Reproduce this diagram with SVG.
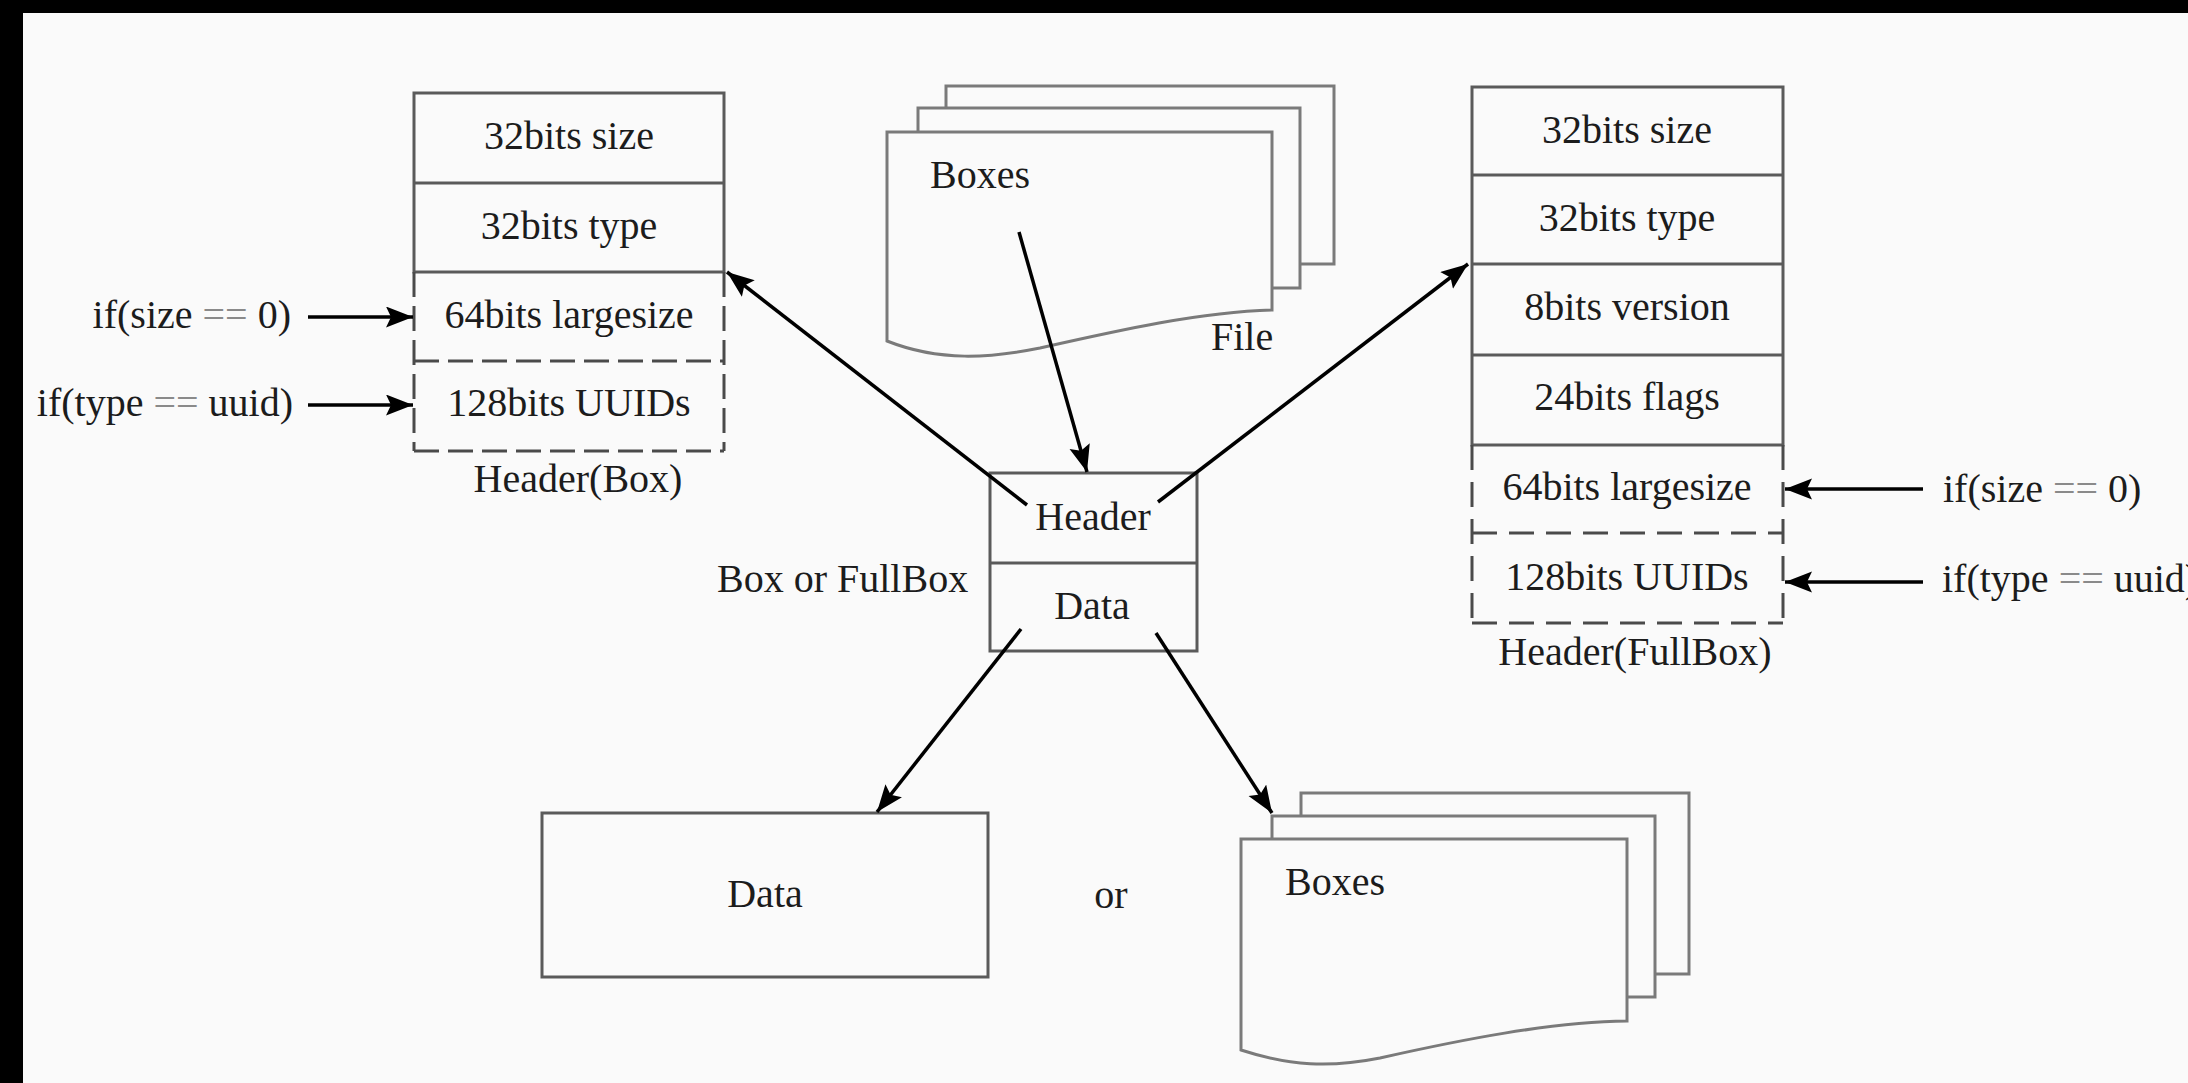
<svg xmlns="http://www.w3.org/2000/svg" width="2188" height="1083" viewBox="0 0 2188 1083">
  <defs>
    <marker id="arrow" markerUnits="userSpaceOnUse" markerWidth="30" markerHeight="24" refX="27" refY="10.5" orient="auto">
      <path d="M0,0 L27,10.5 L0,21 L5,10.5 Z" fill="#000"/>
    </marker>
    <style>
      text { font-family: "Liberation Serif", "Times New Roman", serif; font-size: 40px; fill: #1c1c1c; }
      .mid { text-anchor: middle; }
      .end { text-anchor: end; }
      .eq { fill: #8a8a8a; }
      .cell { fill: none; stroke: #5a5a5a; stroke-width: 3; }
      .dash { fill: none; stroke: #4a4a4a; stroke-width: 3; stroke-dasharray: 25 9; }
      .dash2 { fill: none; stroke: #4a4a4a; stroke-width: 3; stroke-dasharray: 25 12; }
      .page { fill: #fafafa; stroke: #7a7a7a; stroke-width: 3; }
      .conn { fill: none; stroke: #000; stroke-width: 3.5; marker-end: url(#arrow); }
    </style>
  </defs>

  <!-- canvas with dark frame on top and left -->
  <rect x="0" y="0" width="2188" height="1083" fill="#000"/>
  <rect x="23" y="13" width="2165" height="1070" fill="#fafafa"/>

  <!-- Header(Box) layout -->
  <g id="header-box">
    <rect class="cell" x="414" y="93" width="310" height="179"/>
    <line class="cell" x1="414" y1="183" x2="724" y2="183"/>
    <line class="dash" x1="414" y1="272" x2="414" y2="451"/>
    <line class="dash" x1="724" y1="272" x2="724" y2="451"/>
    <line class="dash" x1="414" y1="361" x2="724" y2="361"/>
    <line class="dash" x1="414" y1="451" x2="724" y2="451"/>
    <text class="mid" x="569" y="149">32bits size</text>
    <text class="mid" x="569" y="239">32bits type</text>
    <text class="mid" x="569" y="328">64bits largesize</text>
    <text class="mid" x="569" y="416">128bits UUIDs</text>
    <text class="mid" x="578" y="492">Header(Box)</text>
  </g>

  <g id="cond-box-size">
    <text class="end" x="291" y="328">if(size <tspan class="eq">==</tspan> 0)</text>
  </g>
  <g id="cond-box-type">
    <text class="end" x="293" y="416">if(type <tspan class="eq">==</tspan> uuid)</text>
  </g>

  <!-- File made of stacked boxes -->
  <g id="file-boxes">
    <rect class="page" x="946" y="86" width="388" height="178"/>
    <rect class="page" x="918" y="108" width="382" height="180"/>
    <path class="page" d="M887,341 L887,132 L1272,132 L1272,310 C1200,312 1120,330 1040,348 C990,358 940,362 887,341 Z"/>
    <text x="930" y="188">Boxes</text>
    <text x="1211" y="350">File</text>
  </g>

  <!-- Box or FullBox -->
  <g id="box-or-fullbox">
    <rect class="cell" x="990" y="473" width="207" height="178"/>
    <line class="cell" x1="990" y1="563" x2="1197" y2="563"/>
    <text class="mid" x="1093" y="530">Header</text>
    <text class="mid" x="1092" y="619">Data</text>
    <text x="717" y="592">Box or FullBox</text>
  </g>

  <!-- Header(FullBox) layout -->
  <g id="header-fullbox">
    <rect class="cell" x="1472" y="87" width="311" height="358"/>
    <line class="cell" x1="1472" y1="175" x2="1783" y2="175"/>
    <line class="cell" x1="1472" y1="264" x2="1783" y2="264"/>
    <line class="cell" x1="1472" y1="355" x2="1783" y2="355"/>
    <line class="dash2" x1="1472" y1="445" x2="1472" y2="623"/>
    <line class="dash2" x1="1783" y1="445" x2="1783" y2="623"/>
    <line class="dash2" x1="1472" y1="533" x2="1783" y2="533"/>
    <line class="dash2" x1="1472" y1="623" x2="1783" y2="623"/>
    <text class="mid" x="1627" y="143">32bits size</text>
    <text class="mid" x="1627" y="231">32bits type</text>
    <text class="mid" x="1627" y="320">8bits version</text>
    <text class="mid" x="1627" y="410">24bits flags</text>
    <text class="mid" x="1627" y="500">64bits largesize</text>
    <text class="mid" x="1627" y="590">128bits UUIDs</text>
    <text class="mid" x="1635" y="665">Header(FullBox)</text>
  </g>

  <g id="cond-fullbox-size">
    <text x="1943" y="502">if(size <tspan class="eq">==</tspan> 0)</text>
  </g>
  <g id="cond-fullbox-type">
    <text x="1942" y="592">if(type <tspan class="eq">==</tspan> uuid)</text>
  </g>

  <!-- Payload: plain data -->
  <g id="data">
    <rect class="cell" x="542" y="813" width="446" height="164"/>
    <text class="mid" x="765" y="907">Data</text>
  </g>

  <g id="or-label">
    <text class="mid" x="1111" y="908">or</text>
  </g>

  <!-- Payload: nested boxes -->
  <g id="child-boxes">
    <rect class="page" x="1301" y="793" width="388" height="181"/>
    <rect class="page" x="1272" y="816" width="383" height="181"/>
    <path class="page" d="M1241,1050 L1241,839 L1627,839 L1627,1021 C1550,1022 1460,1040 1380,1058 C1330,1068 1290,1066 1241,1050 Z"/>
    <text x="1285" y="895">Boxes</text>
  </g>

  <!-- connectors -->
  <g id="connectors">
    <line class="conn" x1="308" y1="317" x2="413" y2="317"/>
    <line class="conn" x1="308" y1="405" x2="413" y2="405"/>
    <line class="conn" x1="1923" y1="489" x2="1785" y2="489"/>
    <line class="conn" x1="1923" y1="582" x2="1785" y2="582"/>
    <line class="conn" x1="1019" y1="232" x2="1087" y2="472"/>
    <line class="conn" x1="1027" y1="505" x2="727" y2="272"/>
    <line class="conn" x1="1158" y1="502" x2="1468" y2="264"/>
    <line class="conn" x1="1021" y1="629" x2="877" y2="812"/>
    <line class="conn" x1="1156" y1="633" x2="1272" y2="813"/>
  </g>
</svg>
